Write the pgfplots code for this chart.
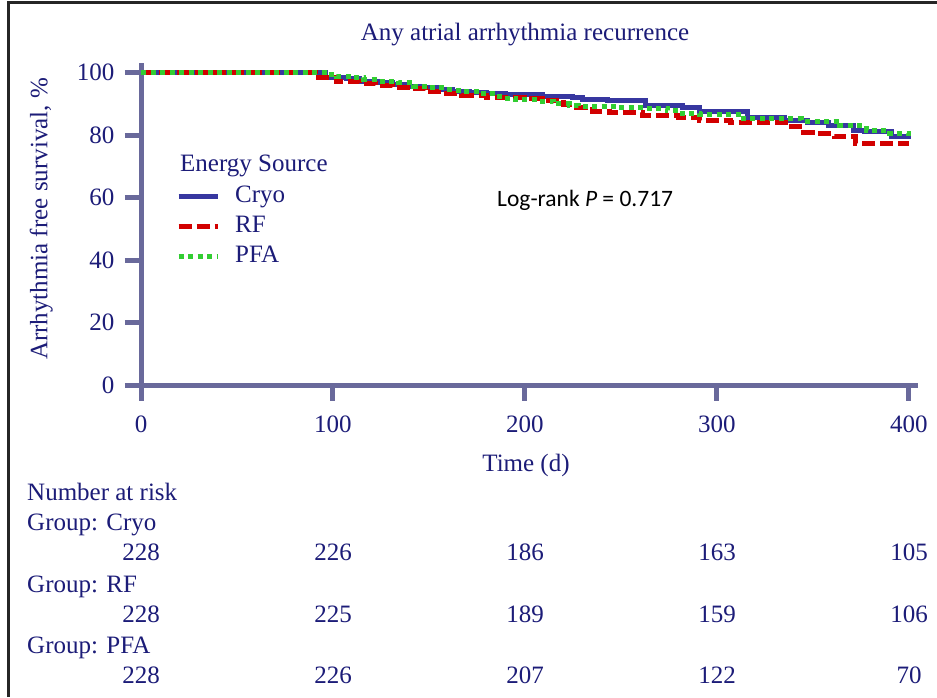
\documentclass[border=0pt]{standalone}
\usepackage{pgfplots}
\pgfplotsset{compat=1.18}
\usepackage{fontspec}
\setmainfont{Liberation Serif}
\newfontfamily\calibri{Carlito}
\definecolor{txt}{RGB}{28,28,120}
\definecolor{axc}{RGB}{105,105,155}
\definecolor{cryo}{RGB}{55,55,160}
\definecolor{rf}{RGB}{210,0,0}
\definecolor{pfa}{RGB}{50,205,50}
\newcommand{\tf}{\fontsize{25}{30}\selectfont}

\pgfplotstableread{
t s
0 100
96 98.6
107 98.0
114 97.3
123 96.8
131 96.2
138 95.6
145 95.2
154 94.5
162 94.0
171 93.8
180 93.4
190 92.9
209 92.3
225 92.1
230 91.5
243 91.0
263 89.6
282 89.0
291 87.6
316 85.6
335 84.7
347 83.9
358 83.1
371 81.6
377 81.1
391 79.7
400 78.7
}\cryodata

\pgfplotstableread{
t s
0 100
91 98.4
102 97.2
114 96.6
122 95.8
131 95.4
140 94.8
148 94.0
157 93.4
167 92.8
180 92.2
200 91.8
209 91.2
220 89.7
227 89.0
235 87.7
244 87.1
261 86.3
280 85.8
291 84.8
307 83.9
337 82.8
345 81.0
352 80.4
361 79.5
372 77.4
400 77.4
}\rfdata

\pgfplotstableread{
t s
0 100
97 99.5
102 98.7
111 98.3
116 97.9
124 97.3
134 96.8
142 95.7
150 95.1
159 94.6
163 94.3
167 94.0
176 93.2
185 92.4
189 91.8
195 91.3
207 90.9
215 90.0
223 89.6
228 89.3
248 88.8
262 88.5
274 87.8
280 87.0
291 86.7
314 85.2
344 84.5
364 83.0
378 81.5
390 80.5
400 79.8
}\pfadata

\begin{document}
\begin{tikzpicture}
\useasboundingbox (0pt,0pt) rectangle (937pt,697pt);
\fill[white] (0pt,0pt) rectangle (937pt,697pt);
\draw[line width=3pt, black!85] (8pt,0pt) -- (8pt,694pt) -- (937pt,694pt);

\begin{axis}[
  at={(141pt,312pt)}, anchor=south west,
  scale only axis, width=777pt, height=322pt,
  xmin=0, xmax=404.7, ymin=0, ymax=103.1,
  axis lines=left,
  axis line style={-, line width=5pt, draw=axc},
  tick align=outside,
  major tick length=16pt,
  every tick/.append style={line width=5pt, draw=axc},
  major tick style={line width=5pt, draw=axc},
  xtick={0,100,200,300,400}, ytick={0,20,40,60,80,100},
  minor tick num=0,
  ticklabel style={font=\tf, text=txt},
  xticklabel style={yshift=-11pt},
  yticklabel style={xshift=-7pt},
  /pgf/number format/assume math mode=true,
  clip=false,
  legend style={at={(0.045,0.619)}, anchor=north west, draw=none, fill=none,
    inner sep=0pt, font=\tf, text=txt, row sep=7.8pt, column sep=15pt,
    nodes={inner sep=0pt, text height=17pt, text depth=5pt}},
  legend cell align=left,
  legend image code/.code={\draw[#1] (0pt,0pt) -- (39pt,0pt);},
]
\addplot[const plot, draw=cryo, line width=5pt] table[x=t,y=s] {\cryodata};
\addlegendentry{Cryo}
\addplot[const plot, draw=rf, line width=5pt, dash pattern=on 13pt off 5pt] table[x=t,y=s] {\rfdata};
\addlegendentry{RF}
\addplot[const plot, draw=pfa, line width=5pt, dash pattern=on 5pt off 4.5pt] table[x=t,y=s] {\pfadata};
\addlegendentry{PFA}
\end{axis}

\begin{scope}[every node/.style={inner sep=0pt, text=txt, font=\tf}]
\node[anchor=base] at (525pt,656pt) {Any atrial arrhythmia recurrence};
\node[rotate=90, anchor=base] at (47.3pt,478pt) {Arrhythmia free survival, \%};
\node[anchor=base] at (526pt,226pt) {Time (d)};
\node[anchor=base west] at (180pt,525.3pt) {Energy Source};
\node[anchor=base west] at (27pt,196.7pt) {Number at risk};
\node[anchor=base west] at (27pt,166.7pt) {Group: Cryo};
\node[anchor=base west] at (27pt,104.7pt) {Group: RF};
\node[anchor=base west] at (27pt,43.7pt) {Group: PFA};
\foreach \x/\a/\b/\c in {141/228/228/228, 333/226/225/226, 525/186/189/207, 717/163/159/122, 909/105/106/70}{
  \node[anchor=base] at (\x pt,136.7pt) {\a};
  \node[anchor=base] at (\x pt,74.7pt) {\b};
  \node[anchor=base] at (\x pt,13.7pt) {\c};
}
\end{scope}
\node[anchor=base west, inner sep=0pt, font=\calibri\fontsize{23.5}{28}\selectfont, text=black] at (497pt,490.4pt) {Log-rank \textit{P} = 0.717};
\end{tikzpicture}
\end{document}
